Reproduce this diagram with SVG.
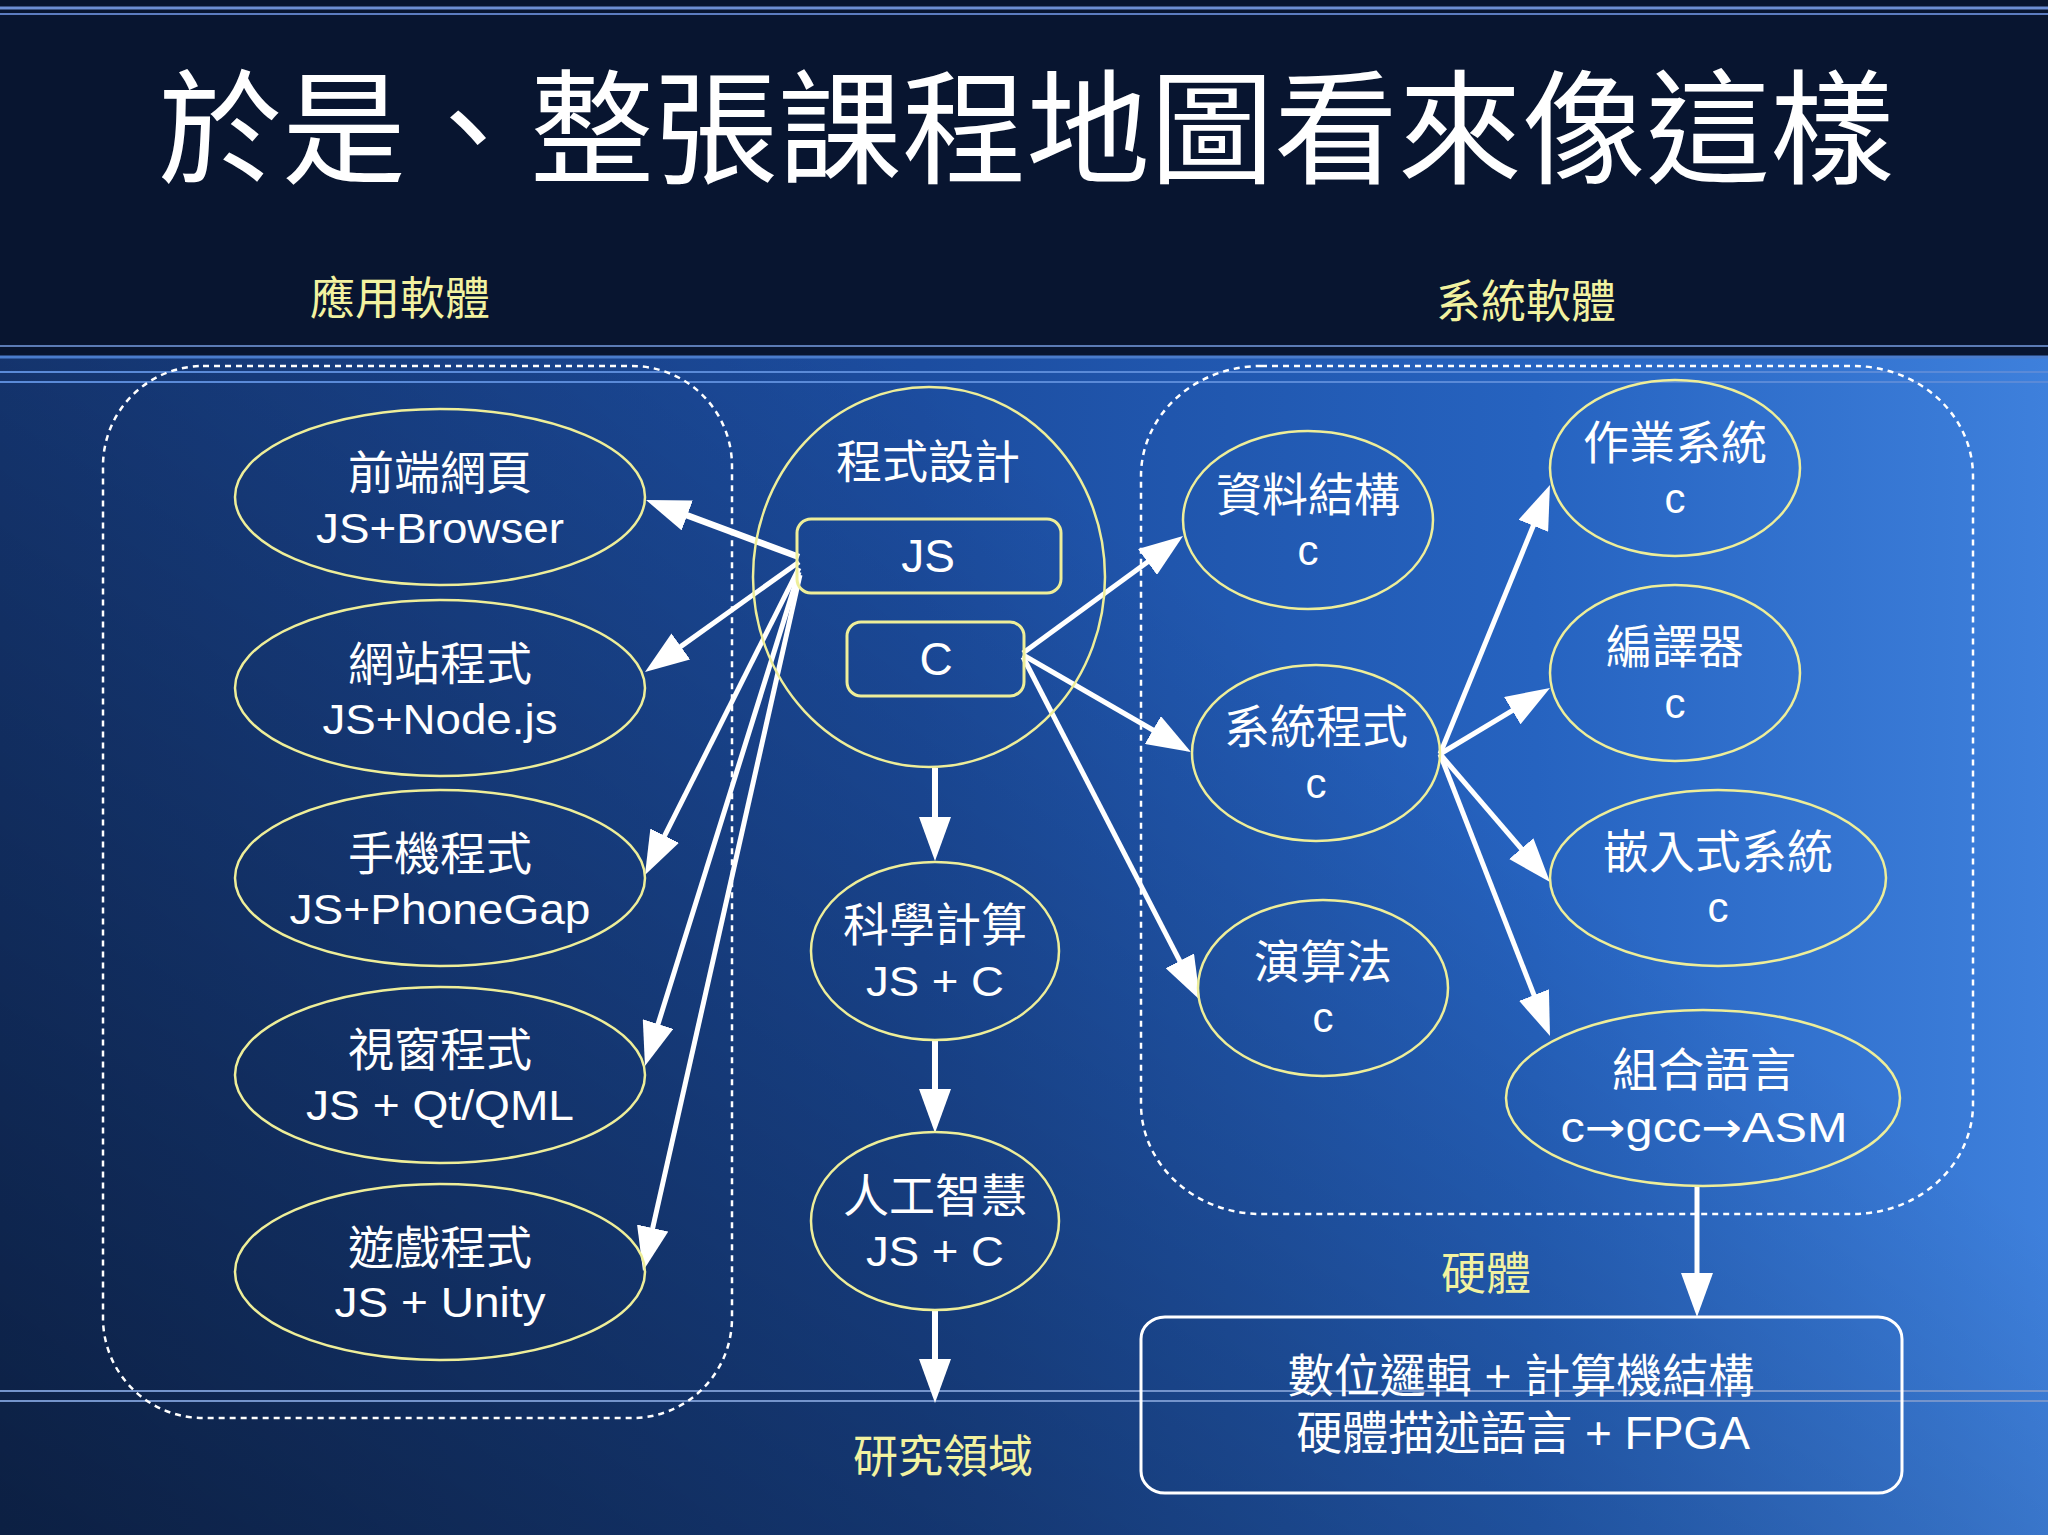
<svg xmlns="http://www.w3.org/2000/svg" width="2048" height="1535" viewBox="0 0 2048 1535">
<defs>
  <linearGradient id="bgH" x1="0" y1="0" x2="1" y2="0">
    <stop offset="0" stop-color="#183f85"/>
    <stop offset="0.45" stop-color="#1c4da0"/>
    <stop offset="0.75" stop-color="#2663c0"/>
    <stop offset="1" stop-color="#3e80dc"/>
  </linearGradient>
  <linearGradient id="bgD" gradientUnits="userSpaceOnUse" x1="900" y1="355" x2="0" y2="1535">
    <stop offset="0" stop-color="#000" stop-opacity="0"/>
    <stop offset="1" stop-color="#000" stop-opacity="0.5"/>
  </linearGradient>
  <marker id="ah" markerUnits="userSpaceOnUse" markerWidth="44" markerHeight="32" refX="14" refY="16" orient="auto" viewBox="0 0 44 32">
    <path d="M0,0 L44,16 L0,32 z" fill="#ffffff"/>
  </marker>
  <style>
    .node { fill: none; stroke: #eeee99; stroke-width: 2.5; }
    .box { fill: none; stroke: #eeee99; stroke-width: 3; }
    .cjk { font-family: "Noto Sans CJK TC", "Noto Sans CJK SC", sans-serif; font-size: 46px; fill: #ffffff; text-anchor: middle; }
    .mix { font-family: "Liberation Sans", "Noto Sans CJK TC", "Noto Sans CJK SC", sans-serif; font-size: 46px; fill: #ffffff; text-anchor: middle; }
    .lat { font-family: "Liberation Sans", Arial, sans-serif; font-size: 42px; fill: #ffffff; text-anchor: middle; }
    .arr { font-family: "DejaVu Sans", sans-serif; }
    .c { font-family: "Liberation Sans", Arial, sans-serif; font-size: 42px; fill: #ffffff; text-anchor: middle; }
    .lbl { font-family: "Noto Sans CJK TC", "Noto Sans CJK SC", sans-serif; font-size: 45px; fill: #f2f2a0; text-anchor: middle; }
    .conn { stroke: #ffffff; stroke-width: 5; fill: none; marker-end: url(#ah); }
    .dash { fill: none; stroke: #ffffff; stroke-width: 2.5; stroke-dasharray: 6 5; }
  </style>
</defs>

<!-- background -->
<rect x="0" y="0" width="2048" height="356" fill="#081530"/>
<rect x="0" y="356" width="2048" height="1179" fill="url(#bgH)"/>
<rect x="0" y="356" width="2048" height="1179" fill="url(#bgD)"/>
<g id="rules">
  <line x1="0" y1="8" x2="2048" y2="8" stroke="#6d8fd5" stroke-width="3"/>
  <line x1="0" y1="14" x2="2048" y2="14" stroke="#5c7cc0" stroke-width="2"/>
  <line x1="0" y1="346" x2="2048" y2="346" stroke="#5b7bb5" stroke-width="2"/>
  <line x1="0" y1="357" x2="2048" y2="357" stroke="#4a7ccc" stroke-width="3"/>
  <line x1="0" y1="372" x2="2048" y2="372" stroke="#5a8ad8" stroke-width="2"/>
  <line x1="0" y1="382" x2="2048" y2="382" stroke="#5a8ad8" stroke-width="2"/>
  <line x1="0" y1="1391" x2="2048" y2="1391" stroke="#7494cc" stroke-width="2"/>
  <line x1="0" y1="1401" x2="2048" y2="1401" stroke="#7494cc" stroke-width="2"/>
</g>

<!-- title and labels -->
<text x="158" y="174" font-family="Noto Sans CJK TC, Noto Sans CJK SC, sans-serif" font-size="124" fill="#ffffff">於是、整張課程地圖看來像這樣</text>
<text class="lbl" x="400" y="315">應用軟體</text>
<text class="lbl" x="1526" y="318">系統軟體</text>
<text class="lbl" x="1486" y="1290">硬體</text>
<text class="lbl" x="943" y="1473">研究領域</text>

<!-- groups -->
<g id="group-app"><rect class="dash" x="103" y="366" width="629" height="1052" rx="100" ry="100"/></g>
<g id="group-sys"><rect class="dash" x="1141" y="366" width="832" height="848" rx="120" ry="110"/></g>

<!-- connectors -->
<g id="connectors">
  <path class="conn" style="stroke-width:6.5" d="M799,557 L674.1,510.5"/>
  <path class="conn" d="M799,562 L669.4,654.6"/>
  <path class="conn" d="M799,568 L658.4,848.2"/>
  <path class="conn" d="M799,572 L653.9,1037.4"/>
  <path class="conn" d="M800,575 L649.6,1241.7"/>
  <path class="conn" style="stroke-width:6" d="M935,768 L935,831"/>
  <path class="conn" style="stroke-width:6" d="M935,1040 L935,1103"/>
  <path class="conn" style="stroke-width:6" d="M935,1310 L935,1373"/>
  <path class="conn" d="M1023,653 L1158.8,553.7"/>
  <path class="conn" d="M1023,655 L1165,737"/>
  <path class="conn" d="M1023,657 L1186.2,973.3"/>
  <path class="conn" d="M1440,754 L1538.6,512.8"/>
  <path class="conn" d="M1440,754 L1524.3,703.4"/>
  <path class="conn" d="M1440,754 L1530.4,859.3"/>
  <path class="conn" d="M1440,754 L1539.1,1008.1"/>
  <path class="conn" d="M1697,1186 L1697,1287"/>
</g>

<!-- left nodes -->
<g id="node-frontend">
  <ellipse class="node" cx="440" cy="497" rx="205" ry="88"/>
  <text class="cjk" x="440" y="489">前端網頁</text>
  <text class="lat" x="440" y="543" textLength="248" lengthAdjust="spacingAndGlyphs">JS+Browser</text>
</g>
<g id="node-website">
  <ellipse class="node" cx="440" cy="688" rx="205" ry="88"/>
  <text class="cjk" x="440" y="680">網站程式</text>
  <text class="lat" x="440" y="734" textLength="235" lengthAdjust="spacingAndGlyphs">JS+Node.js</text>
</g>
<g id="node-mobile">
  <ellipse class="node" cx="440" cy="878" rx="205" ry="88"/>
  <text class="cjk" x="440" y="870">手機程式</text>
  <text class="lat" x="440" y="924" textLength="301" lengthAdjust="spacingAndGlyphs">JS+PhoneGap</text>
</g>
<g id="node-window">
  <ellipse class="node" cx="440" cy="1075" rx="205" ry="88"/>
  <text class="cjk" x="440" y="1066">視窗程式</text>
  <text class="lat" x="440" y="1120" textLength="268" lengthAdjust="spacingAndGlyphs">JS + Qt/QML</text>
</g>
<g id="node-game">
  <ellipse class="node" cx="440" cy="1272" rx="205" ry="88"/>
  <text class="cjk" x="440" y="1264">遊戲程式</text>
  <text class="lat" x="440" y="1317" textLength="211" lengthAdjust="spacingAndGlyphs">JS + Unity</text>
</g>

<!-- center -->
<g id="node-programming">
  <ellipse class="node" cx="929" cy="577" rx="176" ry="190"/>
  <text class="cjk" x="928" y="478">程式設計</text>
  <rect class="box" x="797" y="519" width="264" height="74" rx="14"/>
  <text class="lat" style="font-size:46px" x="928" y="572">JS</text>
  <rect class="box" x="847" y="622" width="177" height="74" rx="14"/>
  <text class="lat" style="font-size:46px" x="936" y="675">C</text>
</g>
<g id="node-science">
  <ellipse class="node" cx="935" cy="951" rx="124" ry="89"/>
  <text class="cjk" x="935" y="941">科學計算</text>
  <text class="lat" x="935" y="996" textLength="138" lengthAdjust="spacingAndGlyphs">JS + C</text>
</g>
<g id="node-ai">
  <ellipse class="node" cx="935" cy="1221" rx="124" ry="89"/>
  <text class="cjk" x="935" y="1212">人工智慧</text>
  <text class="lat" x="935" y="1266" textLength="138" lengthAdjust="spacingAndGlyphs">JS + C</text>
</g>

<!-- right nodes -->
<g id="node-ds">
  <ellipse class="node" cx="1308" cy="520" rx="125" ry="89"/>
  <text class="cjk" x="1308" y="511">資料結構</text>
  <text class="c" x="1308" y="565">c</text>
</g>
<g id="node-sysprog">
  <ellipse class="node" cx="1316" cy="753" rx="124" ry="88"/>
  <text class="cjk" x="1316" y="743">系統程式</text>
  <text class="c" x="1316" y="798">c</text>
</g>
<g id="node-algo">
  <ellipse class="node" cx="1323" cy="988" rx="125" ry="88"/>
  <text class="cjk" x="1323" y="978">演算法</text>
  <text class="c" x="1323" y="1032">c</text>
</g>
<g id="node-os">
  <ellipse class="node" cx="1675" cy="468" rx="125" ry="88"/>
  <text class="cjk" x="1675" y="459">作業系統</text>
  <text class="c" x="1675" y="513">c</text>
</g>
<g id="node-compiler">
  <ellipse class="node" cx="1675" cy="673" rx="125" ry="88"/>
  <text class="cjk" x="1675" y="663">編譯器</text>
  <text class="c" x="1675" y="718">c</text>
</g>
<g id="node-embedded">
  <ellipse class="node" cx="1718" cy="878" rx="168" ry="88"/>
  <text class="cjk" x="1718" y="868">嵌入式系統</text>
  <text class="c" x="1718" y="922">c</text>
</g>
<g id="node-asm">
  <ellipse class="node" cx="1703" cy="1098" rx="197" ry="88"/>
  <text class="cjk" x="1704" y="1086">組合語言</text>
  <text class="lat" x="1704" y="1142" textLength="287" lengthAdjust="spacingAndGlyphs">c<tspan class="arr">→</tspan>gcc<tspan class="arr">→</tspan>ASM</text>
</g>

<!-- hardware -->
<g id="node-hardware">
  <rect x="1141" y="1317" width="761" height="176" rx="24" ry="22" fill="none" stroke="#ffffff" stroke-width="3"/>
  <text class="mix"><tspan x="1521" y="1392">數位邏輯 + 計算機結構</tspan><tspan x="1523" y="1449">硬體描述語言 + FPGA</tspan></text>
</g>
</svg>
